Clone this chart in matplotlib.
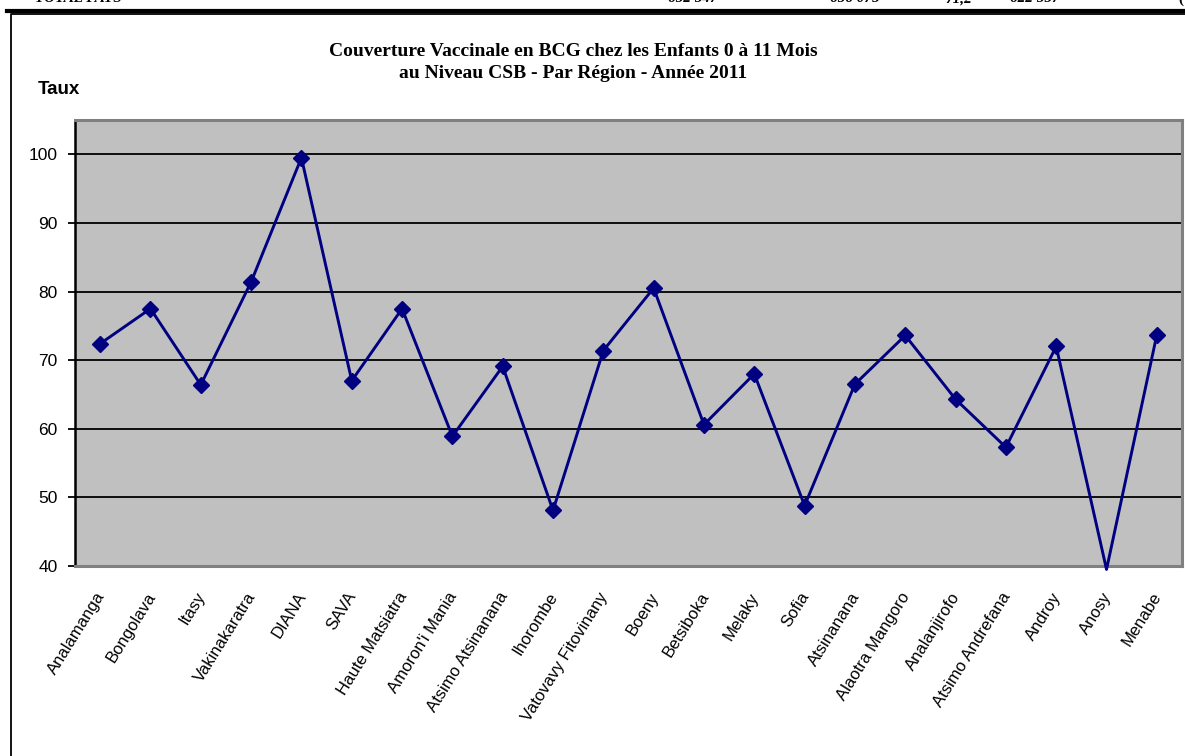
import matplotlib
matplotlib.use("Agg")
import matplotlib.pyplot as plt
from matplotlib.lines import Line2D
from matplotlib.transforms import ScaledTranslation
import numpy as np

regions = ["Analamanga", "Bongolava", "Itasy", "Vakinakaratra", "DIANA", "SAVA",
           "Haute Matsiatra", "Amoron'i Mania", "Atsimo Atsinanana", "Ihorombe",
           "Vatovavy Fitovinany", "Boeny", "Betsiboka", "Melaky", "Sofia",
           "Atsinanana", "Alaotra Mangoro", "Analanjirofo", "Atsimo Andrefana",
           "Androy", "Anosy", "Menabe"]
taux = [72.4, 77.5, 66.4, 81.4, 99.5, 67.0, 77.5, 58.9, 69.1, 48.1, 71.4,
        80.5, 60.6, 68.0, 48.8, 66.5, 73.6, 64.3, 57.3, 72.0, 39.5, 73.7]
yticks = [40, 50, 60, 70, 80, 90, 100]
title_lines = ["Couverture Vaccinale en BCG chez les Enfants 0 à 11 Mois",
               "au Niveau CSB - Par Région - Année 2011"]
table_row = ["TOTAL PAYS", "652 547", "656 075", "71,2", "622 557"]

W, H = 1185, 756
fig = plt.figure(figsize=(W / 100, H / 100), dpi=100)
fig.patch.set_facecolor("white")

def fx(px):
    return px / W

def fy(py):
    return 1 - py / H

# top table remnants (cut off by the page edge, as in the reference)
serif = ["Liberation Serif", "DejaVu Serif"]
for txt, x in zip(table_row, [35, 668, 830, 945, 1010]):
    fig.text(fx(x), fy(-1), txt, fontsize=11, fontweight="bold", style="italic",
             family=serif, va="center", ha="left")
fig.text(fx(1178), fy(-1), "(", fontsize=11, fontweight="bold", family=serif,
         va="center", ha="left")
fig.add_artist(Line2D([fx(7), 1], [fy(10.5), fy(10.5)], color="black", lw=3.0,
                      transform=fig.transFigure))
# outer frame
fig.add_artist(Line2D([fx(10.5), fx(10.5), 1.01], [0, fy(14), fy(14)], color="black",
                      lw=1.3, transform=fig.transFigure))

ax = fig.add_axes([fx(75), fy(566), fx(1182) - fx(75), fy(120) - fy(566)])
ax.set_facecolor("#c0c0c0")
x = np.arange(len(regions))
ymin, ymax = 40, 105
ax.plot(x, taux, color="#000080", lw=2.1, zorder=3, clip_on=False)
inside = [i for i, v in enumerate(taux) if v >= ymin]
ax.plot(x, taux, color="#000080", lw=0, marker="D", markersize=8,
        markevery=inside, zorder=4, clip_on=False)
ax.set_xlim(-0.5, len(regions) - 0.5)
ax.set_ylim(ymin, ymax)
ax.set_yticks(yticks)
ax.set_yticklabels([str(t) for t in yticks], fontsize=12.5, family="Liberation Sans")
ax.yaxis.grid(True, color="black", lw=1.3)
ax.set_axisbelow(True)
ax.tick_params(axis="y", length=5, width=1.3, pad=7.5)
ax.set_xticks(x)
ax.set_xticklabels(regions, rotation=58, ha="right", rotation_mode="anchor",
                   fontsize=12, family="Liberation Sans")
ax.tick_params(axis="x", length=0, pad=17)
shift = ScaledTranslation(-5 / 100, 0, fig.dpi_scale_trans)
for lab in ax.get_xticklabels():
    lab.set_transform(lab.get_transform() + shift)
for side in ["top", "right", "bottom"]:
    ax.spines[side].set_color("#808080")
    ax.spines[side].set_linewidth(2.2)
ax.spines["left"].set_color("black")
ax.spines["left"].set_linewidth(1.8)

fig.text(fx(573), fy(52), title_lines[0], fontsize=14, fontweight="bold",
         family=serif, ha="center", va="center")
fig.text(fx(573), fy(73), title_lines[1], fontsize=14, fontweight="bold",
         family=serif, ha="center", va="center")
fig.text(fx(38), fy(89), "Taux", fontsize=13.5, fontweight="bold",
         family="Liberation Sans", ha="left", va="center")

fig.savefig("out.png", dpi=100)
